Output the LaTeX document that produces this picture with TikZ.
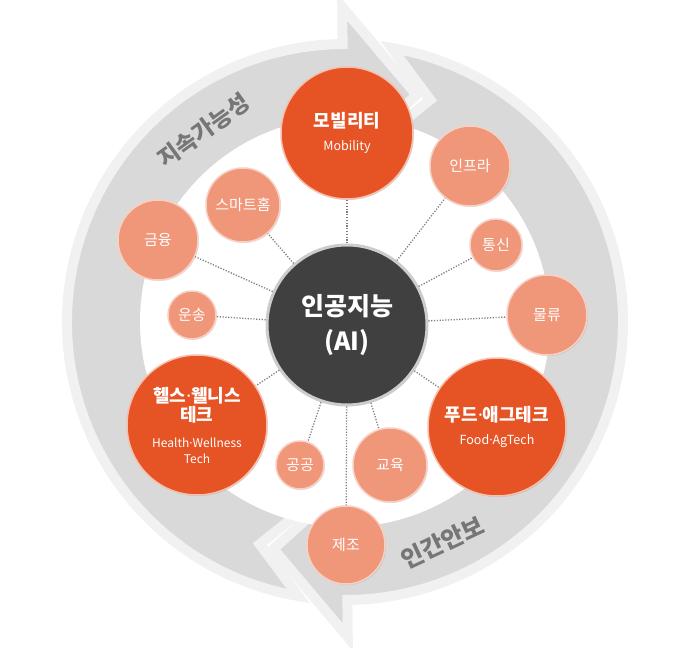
\documentclass[tikz,border=0pt]{standalone}
\usepackage{fontspec}
\setmainfont{Noto Sans CJK KR}
\newfontfamily\dotfont{Noto Sans}
\newcommand\sepdot{{\dotfont ·}}
\usepackage{tikz}
\usetikzlibrary{shadows}
\definecolor{fieldorange}{RGB}{230,83,36}
\definecolor{fieldsalmon}{RGB}{240,150,121}
\definecolor{ringgray}{RGB}{217,217,217}
\definecolor{ringedge}{RGB}{241,241,241}
\definecolor{coregray}{RGB}{64,64,64}
\definecolor{linkgray}{RGB}{125,125,125}
\definecolor{bandtext}{RGB}{118,118,118}

\begin{document}
\begin{tikzpicture}[x=1pt,y=1pt,
    band/.style={fill=ringgray, draw=ringedge, line width=10pt, line join=miter},
    bandlabel/.style={text=bandtext, font=\fontsize{23}{26}\selectfont\bfseries, inner sep=0pt},
    core/.style={circle, fill=coregray, draw=black!20, line width=3pt, text=white, minimum size=160pt, inner sep=0pt, align=center, font=\fontsize{25}{35}\selectfont\bfseries, drop shadow={opacity=0.25, shadow xshift=1pt, shadow yshift=-1pt}},
    bigfield/.style={circle, fill=fieldorange, draw=fieldsalmon!60, line width=1.5pt, text=white, inner sep=0pt, align=center, font=\fontsize{18}{23}\selectfont\bfseries, drop shadow={opacity=0.3, shadow xshift=1pt, shadow yshift=-1pt}},
    field/.style={circle, fill=fieldsalmon, draw=fieldsalmon!45, line width=1.5pt, text=white, inner sep=0pt, font=\fontsize{15}{18}\selectfont, drop shadow={opacity=0.25, shadow xshift=1pt, shadow yshift=-1pt}},
    link/.style={draw=linkgray, line width=1.3pt, dash pattern=on 1.2pt off 1.6pt}]

    \useasboundingbox (-345,-325) rectangle (355,322);

    % Ring arrows
    \path[band] (260.34:278) arc[start angle=260.34, end angle=90.5, radius=278]
        -- (90.5:315) -- (72.5:238) -- (90.5:161)
        arc[start angle=90.5, end angle=267, radius=161] -- (249:238) -- cycle;
    \path[band] (80.34:278) arc[start angle=80.34, end angle=-89.5, radius=278]
        -- (-89.5:315) -- (-107.5:238) -- (-89.5:161)
        arc[start angle=-89.5, end angle=87, radius=161] -- (69:238) -- cycle;
    \fill[white] (0,0) circle (205);

    % Ring labels
    \node[bandlabel, rotate=36] (sustain) at (126.5:238) {지속가능성};
    \node[bandlabel, rotate=25, font=\fontsize{24}{26}\selectfont\bfseries] (security) at (-66:241) {인간안보};

    % Core
    \node[core] (ai) at (2,-3) {인공지능\\(AI)};

    % Main fields
    \node[bigfield, minimum size=132pt] (mob) at (2,189) {모빌리티\\{\mdseries\fontsize{12.5}{23}\selectfont Mobility}};
    \node[bigfield, minimum size=138pt] (food) at (152,-105) {푸드\sepdot 애그테크\\{\mdseries\fontsize{12.5}{23}\selectfont Food\sepdot AgTech}};
    \node[bigfield, minimum size=140pt, font=\fontsize{18}{19}\selectfont\bfseries] (health) at (-148,-103)
        {헬스\sepdot 웰니스\\테크\\[7pt]{\mdseries\fontsize{12}{19}\selectfont Health\sepdot Wellness}\\[-3pt]{\mdseries\fontsize{12}{19}\selectfont Tech}};

    % Other fields
    \node[field, minimum size=80pt] (infra) at (125,156) {인프라};
    \node[field, minimum size=52pt] (tel) at (151,77) {통신};
    \node[field, minimum size=80pt] (logis) at (202,7) {물류};
    \node[field, minimum size=74pt] (edu) at (45,-143) {교육};
    \node[field, minimum size=78pt] (manu) at (1,-223) {제조};
    \node[field, minimum size=48pt] (pub) at (-45,-143) {공공};
    \node[field, minimum size=48pt] (trans) at (-153,7) {운송};
    \node[field, minimum size=80pt] (fin) at (-187,82) {금융};
    \node[field, minimum size=74pt] (home) at (-102,117) {스마트홈};

    % Connections
    \draw[link] (ai) -- (mob);
    \draw[link] (ai) -- (infra);
    \draw[link] (ai) -- (tel);
    \draw[link] (ai) -- (logis);
    \draw[link] (ai) -- (food);
    \draw[link] (ai) -- (edu);
    \draw[link] (ai) -- (manu);
    \draw[link] (ai) -- (pub);
    \draw[link] (ai) -- (health);
    \draw[link] (ai) -- (trans);
    \draw[link] (ai) -- (fin);
    \draw[link] (ai) -- (home);
\end{tikzpicture}
\end{document}
